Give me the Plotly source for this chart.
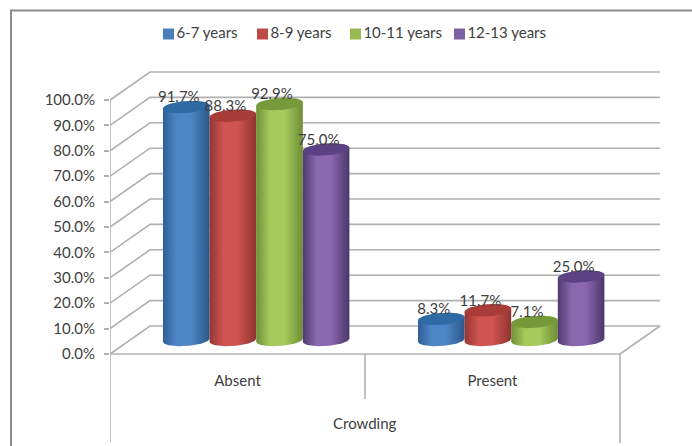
import numpy as np
import plotly.graph_objects as go

categories = ["Absent", "Present"]
series_names = ["6-7 years", "8-9 years", "10-11 years", "12-13 years"]
series_values = {
    "6-7 years": [91.7, 8.3],
    "8-9 years": [88.3, 11.7],
    "10-11 years": [92.9, 7.1],
    "12-13 years": [75.0, 25.0],
}
y_ticks = [0, 10, 20, 30, 40, 50, 60, 70, 80, 90, 100]
y_labels = [f"{v:.1f}%" for v in y_ticks]
axis_title = "Crowding"

# colours: dark edge, light centre, dark edge, top, legend
palette = {
    "6-7 years": ("#2f6098", "#4f86c6", "#2a5788", "#2f6aa5", "#4a7ebb"),
    "8-9 years": ("#943634", "#d05450", "#8e3330", "#a83c39", "#be4b48"),
    "10-11 years": ("#6f9036", "#a6ca5c", "#6e8e35", "#769a3a", "#98b954"),
    "12-13 years": ("#4f3a70", "#8a67ae", "#4b376b", "#5c4184", "#7d60a0"),
}
GREY = "#b0b0b0"
TEXT = "#404040"

# pixel layout of the drawing
W, H = 692, 446
PL, PR, PT, PB = 110, 664, 15, 444   # plot area
Y0, Y100 = 354, 100                  # front-plane pixels of 0 % and 100 %
XC = 255                             # pixels per category
DX_BACK, DY_BACK = 40, 28            # depth offset of the back wall
BAR_W = 46.6 / 255                   # bar width in category units
GAP_L = 53 / 255                     # first bar offset in category units
LEGEND_Y = 34
LEGEND_SWATCH_X = [168.5, 262.5, 355.5, 459.5]

py = (Y0 - Y100) / 100               # pixels per percent
y_lo = -(PB - Y0) / py
y_hi = (Y0 - PT) / py
x_lo, x_hi = 0, (PR - PL) / XC
back_dy = DY_BACK / py
back_dx = DX_BACK / XC
base_shift = 14 / py                 # cylinder base centre above floor front
rx = BAR_W / 2
ry = 6 / py
tilt = 1.6 / py


def ellipse(cx, cy, start, stop, n=40):
    t = np.linspace(start, stop, n)
    x = cx + rx * np.cos(t)
    y = cy + ry * np.sin(t) + tilt * np.cos(t)
    return x, y


fig = go.Figure()


def line(xs, ys, color=GREY, width=1.6):
    fig.add_trace(go.Scatter(x=xs, y=ys, mode="lines", showlegend=False, hoverinfo="skip",
                             cliponaxis=False, line=dict(color=color, width=width)))


# walls
for v in y_ticks:
    line([0, back_dx, back_dx + 2.0], [v, v + back_dy, v + back_dy])
line([2.0, 2.0 + back_dx], [0, back_dy])
line([0, 2.0], [0, 0])
line([0, 0], [-88 / py, 100])
line([1, 1], [0, -45 / py])
line([2, 2], [0, -89 / py])

# legend row
for name, sx in zip(series_names, LEGEND_SWATCH_X):
    fig.add_trace(go.Scatter(
        x=[(sx - PL) / XC], y=[(Y0 - LEGEND_Y) / py], mode="markers+text", name=name,
        marker=dict(symbol="square", size=11, color=palette[name][4]),
        text=[name], textposition="middle right",
        textfont=dict(family="Lato", size=15, color=TEXT),
        cliponaxis=False, showlegend=False, hoverinfo="skip"))

# cylinders
for ci, cat in enumerate(categories):
    for si, name in enumerate(series_names):
        v = series_values[name][ci]
        cx = ci + GAP_L + BAR_W * (si + 0.5)
        b = base_shift
        t = v + base_shift
        c1, c2, c3, top, _ = palette[name]
        xb, yb = ellipse(cx, b, np.pi, 2 * np.pi)
        xt, yt = ellipse(cx, t, 0, np.pi)
        fig.add_trace(go.Scatter(
            x=np.concatenate([xb, xt]), y=np.concatenate([yb, yt]),
            fill="toself", mode="lines", line=dict(width=0), showlegend=False, hoverinfo="skip",
            fillgradient=dict(type="horizontal",
                              colorscale=[[0, c1], [0.3, c2], [0.6, c2], [1, c3]]),
        ))
        xe, ye = ellipse(cx, t, 0, 2 * np.pi, 60)
        fig.add_trace(go.Scatter(x=xe, y=ye, fill="toself", mode="lines", line=dict(width=0),
                                 fillcolor=top, showlegend=False, hoverinfo="skip"))

# value labels
for ci, cat in enumerate(categories):
    for si, name in enumerate(series_names):
        v = series_values[name][ci]
        cx = ci + GAP_L + BAR_W * (si + 0.5)
        fig.add_trace(go.Scatter(
            x=[cx - 7.5 / XC], y=[v + base_shift + 8.5 / py], mode="text",
            text=[f"{v:.1f}%"], textposition="middle center",
            textfont=dict(family="Lato", size=15, color=TEXT),
            cliponaxis=False, showlegend=False, hoverinfo="skip"))

bx = (11 - PL) / (PR - PL)
fig.update_layout(
    width=W, height=H, autosize=False, showlegend=False,
    margin=dict(l=PL, r=W - PR, t=PT, b=H - PB, autoexpand=False),
    paper_bgcolor="white", plot_bgcolor="rgba(0,0,0,0)",
    font=dict(family="Lato", size=15, color=TEXT),
    shapes=[dict(type="path", xref="paper", yref="paper", layer="below",
                 path=f"M {bx} {(PB - H) / (PB - PT)} L {bx} {(PB - 10.5) / (PB - PT)} "
                      f"L {(W - PL) / (PR - PL)} {(PB - 10.5) / (PB - PT)}",
                 line=dict(color="#8c8c8c", width=2))],
    annotations=[dict(x=1, y=-(423 - Y0) / py, xref="x", yref="y", text=axis_title,
                      showarrow=False, xanchor="center", yanchor="middle",
                      font=dict(family="Lato", size=15, color=TEXT))],
)
fig.update_xaxes(range=[x_lo, x_hi], tickmode="array", tickvals=[0.5, 1.5], ticktext=categories,
                 showgrid=False, zeroline=False, showline=False, ticks="",
                 anchor="free", position=(PB - Y0) / (PB - PT), ticklabelstandoff=16,
                 automargin=False, tickfont=dict(size=15), fixedrange=True)
fig.update_yaxes(range=[y_lo, y_hi], tickmode="array", tickvals=y_ticks, ticktext=y_labels,
                 showgrid=False, zeroline=False, showline=False, ticks="outside", ticklen=5,
                 ticklabelstandoff=6, tickcolor=GREY, tickwidth=1.5, tickfont=dict(size=15),
                 automargin=False, fixedrange=True)
fig.write_html("out.html", config={"displayModeBar": False},
               post_script="document.body.style.margin='0';")
